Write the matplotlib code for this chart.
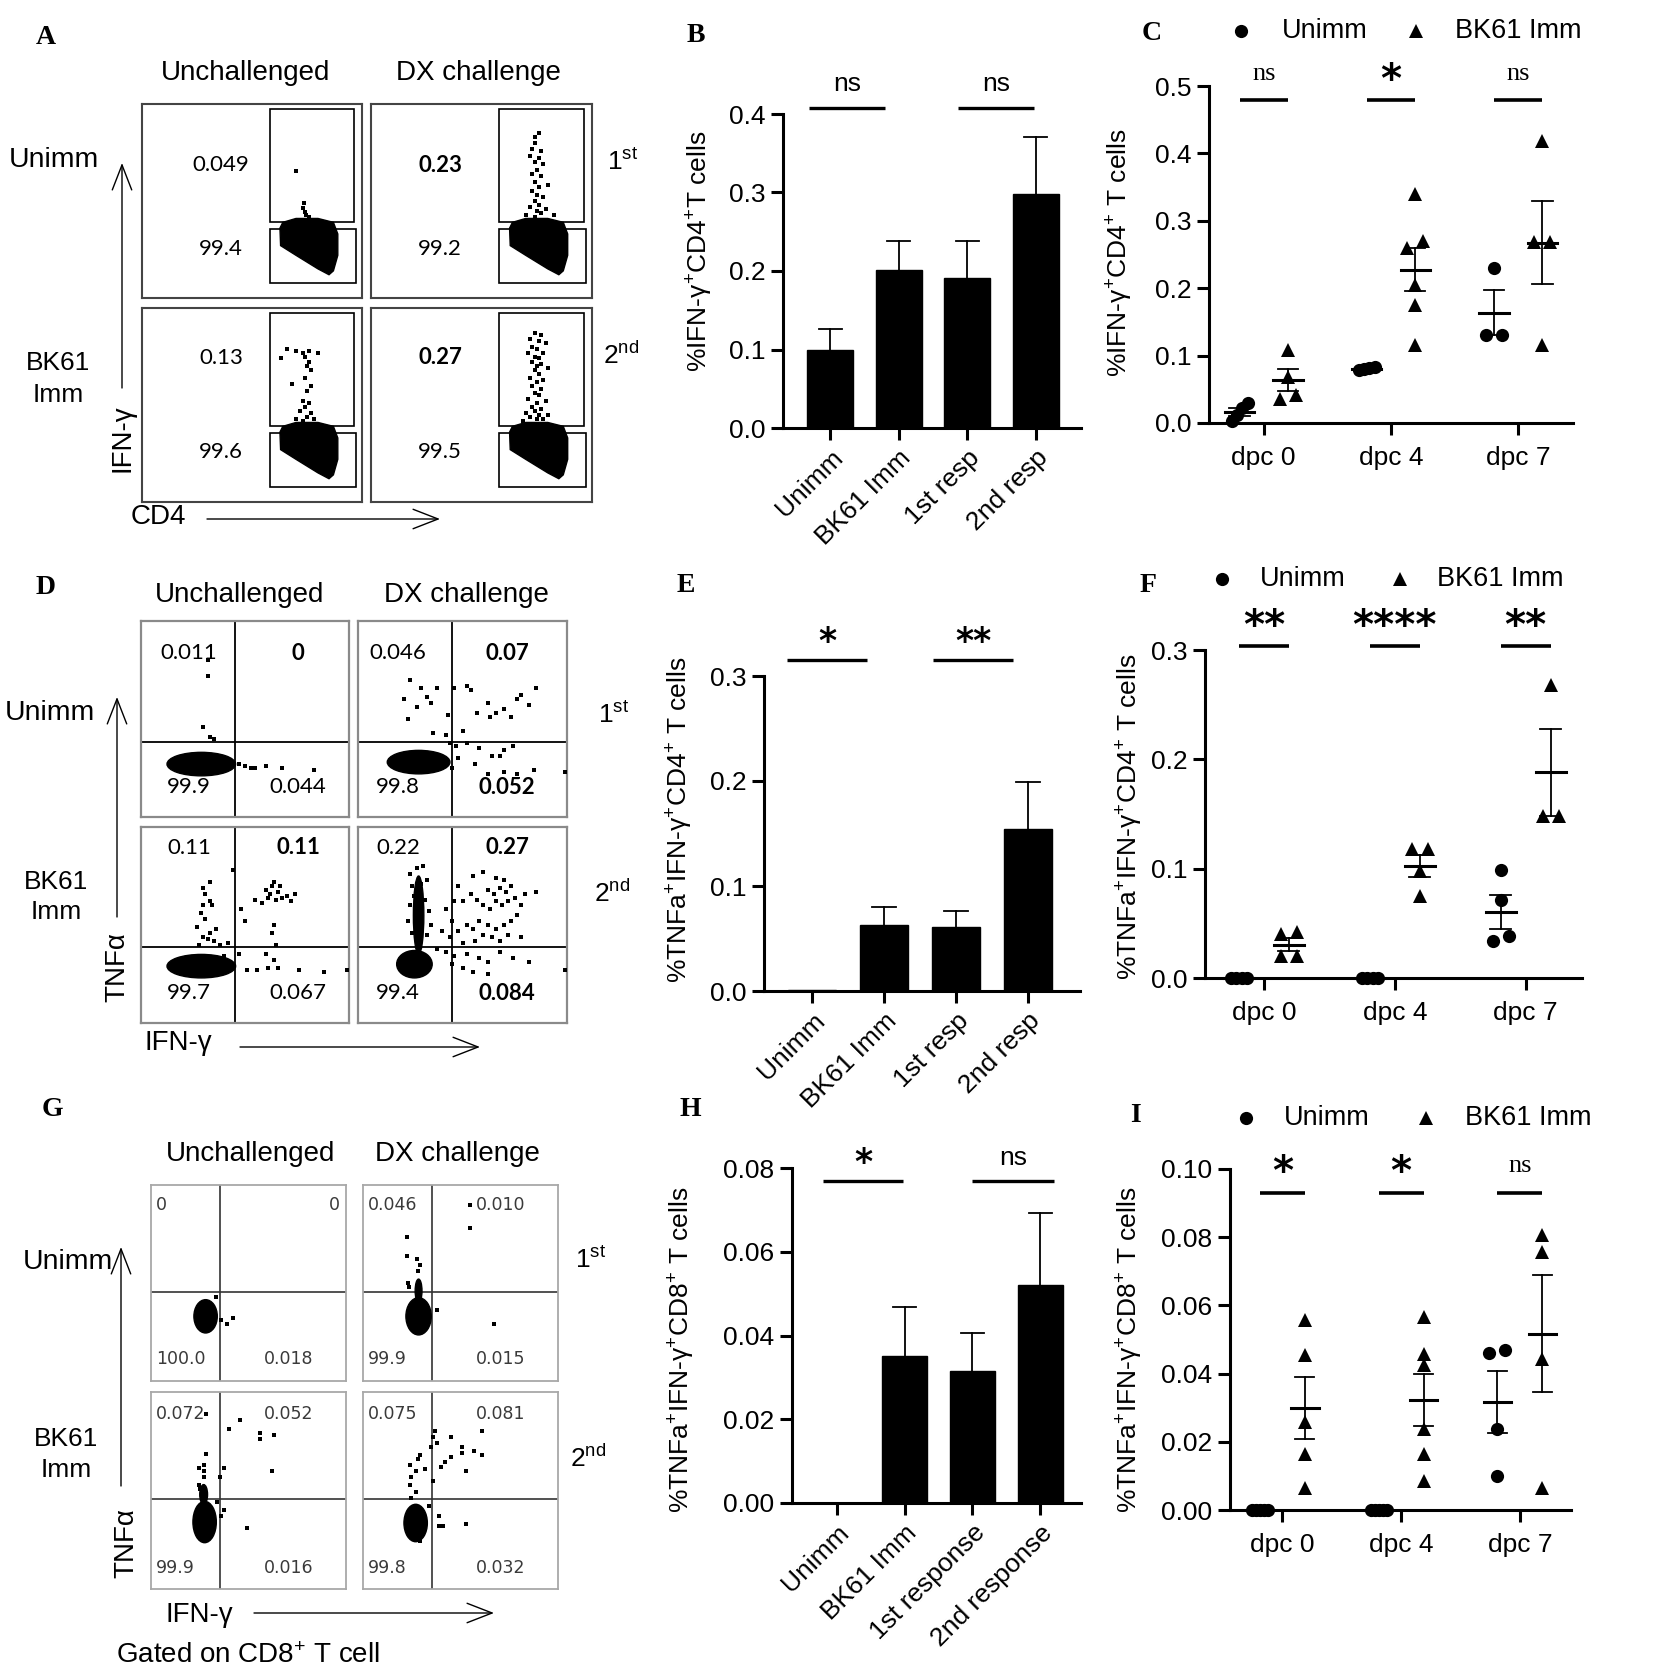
import numpy as np
import matplotlib
matplotlib.use("Agg")
import matplotlib.pyplot as plt
from matplotlib.patches import Rectangle, Polygon, Ellipse

plt.rcParams['font.family'] = ['Liberation Sans', 'DejaVu Sans']
plt.rcParams['mathtext.fontset'] = 'custom'
plt.rcParams['mathtext.rm'] = 'Liberation Sans'
plt.rcParams['mathtext.it'] = 'Liberation Sans:italic'
plt.rcParams['mathtext.bf'] = 'Liberation Sans:bold'
plt.rcParams['mathtext.default'] = 'regular'

# ---------------------------------------------------------------- data
bar_labels_short = ["Unimm", "BK61 Imm", "1st resp", "2nd resp"]
bar_labels_long = ["Unimm", "BK61 Imm", "1st response", "2nd response"]
B_mean = [0.099, 0.201, 0.191, 0.298]
B_sem = [0.027, 0.037, 0.047, 0.073]
E_mean = [0.001, 0.0626, 0.061, 0.154]
E_sem = [0.0, 0.0172, 0.0155, 0.0455]
H_mean = [0.0, 0.0352, 0.0316, 0.052]
H_sem = [0.0, 0.0116, 0.0090, 0.0172]
B_sig = ["ns", "ns"]
E_sig = ["*", "**"]
H_sig = ["*", "ns"]

days = ["dpc 0", "dpc 4", "dpc 7"]
groups = ["Unimm", "BK61 Imm"]
C_unimm = [[0.029, 0.022, 0.012, 0.003], [0.082, 0.080, 0.078, 0.083], [0.23, 0.13, 0.13]]
C_bk61 = [[0.108, 0.068, 0.036, 0.042], [0.34, 0.27, 0.26, 0.205, 0.175, 0.115],
          [0.418, 0.268, 0.268, 0.116]]
F_unimm = [[0, 0, 0, 0], [0, 0, 0, 0], [0.099, 0.071, 0.038, 0.034]]
F_bk61 = [[0.042, 0.040, 0.020, 0.020], [0.118, 0.118, 0.098, 0.075], [0.268, 0.148, 0.148]]
I_unimm = [[0, 0, 0, 0, 0], [0, 0, 0, 0, 0], [0.046, 0.047, 0.0237, 0.010]]
I_bk61 = [[0.0556, 0.0455, 0.0257, 0.0165, 0.0064],
          [0.0566, 0.0458, 0.0426, 0.0237, 0.0165, 0.0084],
          [0.0805, 0.0756, 0.0442, 0.0064]]
C_sig = ["ns", "*", "ns"]
F_sig = ["**", "****", "**"]
I_sig = ["*", "*", "ns"]

flow_cols = ["Unchallenged", "DX challenge"]
# panel A gate percentages [row][col] (upper gate, lower gate)
A_upper = [["0.049", "0.23"], ["0.13", "0.27"]]
A_lower = [["99.4", "99.2"], ["99.6", "99.5"]]
# quadrant percentages [row][col] -> (UL, UR, LL, LR)
D_quad = [[["0.011", "0", "99.9", "0.044"], ["0.046", "0.07", "99.8", "0.052"]],
          [["0.11", "0.11", "99.7", "0.067"], ["0.22", "0.27", "99.4", "0.084"]]]
G_quad = [[["0", "0", "100.0", "0.018"], ["0.046", "0.010", "99.9", "0.015"]],
          [["0.072", "0.052", "99.9", "0.016"], ["0.075", "0.081", "99.8", "0.032"]]]

# flow events (normalised plot coordinates), dense core populations as outlines
A_core = [(0.627, 0.36), (0.64, 0.39), (0.70, 0.41), (0.80, 0.41), (0.87, 0.39), (0.89, 0.33),
          (0.89, 0.22), (0.87, 0.14), (0.85, 0.12), (0.80, 0.15), (0.70, 0.22), (0.63, 0.27)]
A_events = [
    [[(0.70, 0.655), (0.735, 0.49), (0.73, 0.465), (0.74, 0.445), (0.745, 0.43), (0.76, 0.42)],
     [(0.76, 0.85), (0.74, 0.83), (0.74, 0.80), (0.73, 0.77), (0.77, 0.76), (0.72, 0.73), (0.76, 0.72),
      (0.74, 0.70), (0.78, 0.69), (0.75, 0.66), (0.73, 0.64), (0.77, 0.63), (0.74, 0.60), (0.80, 0.58),
      (0.76, 0.57), (0.73, 0.55), (0.75, 0.53), (0.78, 0.52), (0.74, 0.50), (0.76, 0.48), (0.72, 0.47),
      (0.79, 0.46), (0.75, 0.45), (0.77, 0.44), (0.70, 0.43), (0.83, 0.43), (0.74, 0.42)]],
    [[(0.66, 0.79), (0.70, 0.78), (0.73, 0.77), (0.76, 0.78), (0.80, 0.77), (0.63, 0.74), (0.74, 0.745),
      (0.76, 0.72), (0.75, 0.70), (0.77, 0.68), (0.74, 0.64), (0.68, 0.61), (0.77, 0.60), (0.75, 0.57),
      (0.73, 0.52), (0.76, 0.51), (0.74, 0.49), (0.72, 0.47), (0.77, 0.46), (0.75, 0.44), (0.70, 0.43),
      (0.78, 0.43), (0.73, 0.42)],
     [(0.74, 0.87), (0.77, 0.86), (0.72, 0.84), (0.76, 0.83), (0.79, 0.82), (0.73, 0.80), (0.75, 0.79),
      (0.71, 0.77), (0.78, 0.77), (0.74, 0.75), (0.76, 0.74), (0.73, 0.72), (0.77, 0.71), (0.75, 0.70),
      (0.80, 0.69), (0.74, 0.68), (0.76, 0.66), (0.72, 0.64), (0.78, 0.63), (0.75, 0.62), (0.73, 0.60),
      (0.77, 0.58), (0.74, 0.56), (0.76, 0.55), (0.71, 0.53), (0.79, 0.52), (0.75, 0.51), (0.73, 0.49),
      (0.77, 0.48), (0.74, 0.47), (0.70, 0.46), (0.76, 0.45), (0.80, 0.45), (0.72, 0.44), (0.75, 0.43),
      (0.78, 0.43), (0.69, 0.42)]]]
D_core = [[[(0.29, 0.27, 0.33, 0.12)], [(0.29, 0.28, 0.30, 0.12)]],
          [[(0.29, 0.29, 0.33, 0.12)], [(0.27, 0.30, 0.17, 0.14), (0.29, 0.55, 0.05, 0.40)]]]
D_events = [
    [[(0.32, 0.80), (0.32, 0.72), (0.30, 0.46), (0.33, 0.41), (0.35, 0.40), (0.47, 0.27), (0.50, 0.26),
      (0.53, 0.25), (0.55, 0.25), (0.60, 0.26), (0.68, 0.25), (0.83, 0.24)],
     [(0.25, 0.70), (0.30, 0.66), (0.33, 0.61), (0.38, 0.66), (0.22, 0.60), (0.28, 0.56), (0.35, 0.58),
      (0.24, 0.50), (0.43, 0.52), (0.46, 0.66), (0.52, 0.67), (0.54, 0.65), (0.62, 0.58), (0.66, 0.53),
      (0.70, 0.55), (0.73, 0.51), (0.76, 0.60), (0.82, 0.57), (0.85, 0.66), (0.78, 0.62), (0.63, 0.51),
      (0.57, 0.53), (0.50, 0.44), (0.42, 0.42), (0.36, 0.43), (0.44, 0.38), (0.47, 0.36), (0.52, 0.38),
      (0.58, 0.35), (0.64, 0.31), (0.70, 0.34), (0.74, 0.36), (0.68, 0.31), (0.56, 0.27), (0.62, 0.22),
      (0.70, 0.23), (0.76, 0.22), (0.84, 0.24), (0.99, 0.23), (0.48, 0.30), (0.45, 0.25)]],
    [[(0.33, 0.72), (0.30, 0.69), (0.31, 0.66), (0.33, 0.62), (0.30, 0.60), (0.34, 0.60), (0.29, 0.56),
      (0.31, 0.53), (0.27, 0.49), (0.33, 0.46), (0.36, 0.48), (0.30, 0.44), (0.32, 0.43), (0.35, 0.42),
      (0.28, 0.40), (0.38, 0.40), (0.42, 0.41), (0.44, 0.78), (0.55, 0.63), (0.58, 0.61), (0.60, 0.68),
      (0.62, 0.66), (0.63, 0.70), (0.64, 0.72), (0.66, 0.67), (0.68, 0.64), (0.70, 0.65), (0.72, 0.62),
      (0.74, 0.66), (0.61, 0.64), (0.65, 0.63), (0.67, 0.70), (0.48, 0.58), (0.50, 0.52), (0.64, 0.50),
      (0.63, 0.46), (0.65, 0.40), (0.60, 0.35), (0.64, 0.32), (0.61, 0.28), (0.66, 0.28), (0.76, 0.27),
      (0.88, 0.26), (0.99, 0.27), (0.47, 0.35), (0.40, 0.34), (0.51, 0.27), (0.56, 0.27)],
     [(0.55, 0.75), (0.60, 0.77), (0.66, 0.74), (0.70, 0.73), (0.73, 0.70), (0.71, 0.67), (0.68, 0.69),
      (0.65, 0.66), (0.62, 0.68), (0.75, 0.64), (0.72, 0.62), (0.69, 0.60), (0.66, 0.62), (0.63, 0.58),
      (0.60, 0.60), (0.57, 0.63), (0.54, 0.66), (0.50, 0.62), (0.48, 0.70), (0.78, 0.60), (0.80, 0.66),
      (0.85, 0.67), (0.76, 0.55), (0.73, 0.52), (0.70, 0.50), (0.66, 0.48), (0.62, 0.50), (0.58, 0.52),
      (0.55, 0.48), (0.52, 0.50), (0.48, 0.47), (0.45, 0.52), (0.42, 0.58), (0.46, 0.62), (0.60, 0.45),
      (0.64, 0.44), (0.68, 0.42), (0.72, 0.45), (0.78, 0.44), (0.56, 0.42), (0.50, 0.41), (0.44, 0.44),
      (0.40, 0.47), (0.38, 0.38), (0.42, 0.36), (0.46, 0.34), (0.52, 0.35), (0.58, 0.33), (0.62, 0.31),
      (0.68, 0.36), (0.74, 0.33), (0.82, 0.31), (0.50, 0.28), (0.55, 0.26), (0.62, 0.25), (0.45, 0.30),
      (0.99, 0.27), (0.28, 0.79), (0.31, 0.80), (0.25, 0.76), (0.33, 0.73), (0.26, 0.70), (0.30, 0.71),
      (0.27, 0.65), (0.32, 0.63), (0.25, 0.60), (0.34, 0.57), (0.24, 0.52), (0.35, 0.50), (0.26, 0.46),
      (0.33, 0.45)]]]
G_core = [[[(0.28, 0.33, 0.12, 0.17)], [(0.285, 0.33, 0.13, 0.19), (0.285, 0.46, 0.035, 0.12)]],
          [[(0.275, 0.34, 0.12, 0.21), (0.27, 0.48, 0.04, 0.10)], [(0.27, 0.335, 0.12, 0.19)]]]
G_events = [
    [[(0.335, 0.43), (0.42, 0.32), (0.39, 0.29), (0.36, 0.31)],
     [(0.225, 0.735), (0.225, 0.64), (0.277, 0.62), (0.29, 0.59), (0.28, 0.56), (0.55, 0.78),
      (0.549, 0.90), (0.38, 0.36), (0.67, 0.29), (0.23, 0.50), (0.235, 0.48)]],
    [[(0.28, 0.685), (0.245, 0.615), (0.27, 0.63), (0.27, 0.60), (0.27, 0.57), (0.245, 0.53),
      (0.25, 0.51), (0.354, 0.57), (0.375, 0.615), (0.40, 0.81), (0.455, 0.86), (0.56, 0.79),
      (0.56, 0.76), (0.63, 0.78), (0.62, 0.60), (0.28, 0.89), (0.375, 0.40), (0.36, 0.37),
      (0.49, 0.31), (0.34, 0.44)],
     [(0.245, 0.46), (0.27, 0.49), (0.24, 0.53), (0.245, 0.57), (0.27, 0.60), (0.24, 0.63),
      (0.28, 0.66), (0.29, 0.68), (0.36, 0.77), (0.37, 0.80), (0.38, 0.74), (0.36, 0.55), (0.35, 0.72),
      (0.45, 0.77), (0.42, 0.645), (0.40, 0.62), (0.45, 0.67), (0.51, 0.72), (0.51, 0.69), (0.57, 0.70),
      (0.61, 0.80), (0.61, 0.68), (0.53, 0.60), (0.32, 0.61), (0.34, 0.42), (0.39, 0.37), (0.39, 0.32),
      (0.41, 0.32), (0.53, 0.33), (0.29, 0.245)]]]

# ---------------------------------------------------------------- figure
W, H = 1654, 1679
fig = plt.figure(figsize=(W / 100, H / 100), dpi=100)
ov = fig.add_axes([0, 0, 1, 1])
ov.set_xlim(0, W)
ov.set_ylim(H, 0)
ov.axis('off')
ov.set_zorder(10)

FS = 19
LFS = 20  # flow panel labels


def pax(x0, y0, x1, y1):
    return fig.add_axes([x0 / W, 1 - y1 / H, (x1 - x0) / W, (y1 - y0) / H])


def T(x, y, s, **kw):
    kw.setdefault('ha', 'center')
    kw.setdefault('va', 'center')
    kw.setdefault('fontsize', FS)
    return ov.text(x, y, s, **kw)


def arrow(x0, y0, x1, y1):
    ov.annotate('', xy=(x1, y1), xytext=(x0, y0),
                arrowprops=dict(arrowstyle='->,head_length=0.9,head_width=0.35', lw=1.0,
                                color='k', shrinkA=0, shrinkB=0, mutation_scale=20))


def letter(x, y, s):
    T(x, y, s, fontsize=20, family='Liberation Serif', weight='bold')


def flow_box(x0, y0, x1, y1, edge, lw):
    ax = pax(x0, y0, x1, y1)
    ax.set_xlim(0, 1)
    ax.set_ylim(0, 1)
    ax.set_xticks([])
    ax.set_yticks([])
    for s in ax.spines.values():
        s.set_color(edge)
        s.set_linewidth(lw)
    return ax


def events(ax, pts, s=7):
    p = np.array(pts)
    ax.scatter(p[:, 0], p[:, 1], s=s, marker='s', c='k', linewidths=0, zorder=3)


# ---------------- panel A
letter(46, 37, "A")
A_colx = [(142, 362), (371, 592)]
A_rowy = [(104, 298), (308, 502)]
D_colx = [(141, 349), (358, 567)]
D_rowy = [(621, 817), (827, 1023)]
G_colx = [(151, 346), (363, 558)]
G_rowy = [(1185, 1381), (1392, 1589)]

for c, name in enumerate(flow_cols):
    T([246, 478][c], 73, name, fontsize=LFS)
    T([240, 466][c], 595, name, fontsize=LFS)
    T([251, 457][c], 1154, name, fontsize=LFS)

for r in range(2):
    for c in range(2):
        ax = flow_box(A_colx[c][0], A_rowy[r][0], A_colx[c][1], A_rowy[r][1], '#444', 1.5)
        gx = 0.582 if c == 0 else 0.579
        ax.add_patch(Rectangle((gx, 0.392), 0.964 - gx, 0.974 - 0.392, fill=False, ec='k', lw=1.2))
        ax.add_patch(Rectangle((gx, 0.077), 0.973 - gx, 0.356 - 0.077, fill=False, ec='k', lw=1.2))
        ax.add_patch(Polygon(A_core, closed=True, fc='k', ec='k', lw=1, zorder=2))
        events(ax, A_events[r][c])
        xc = [221, 440][c]
        wt = 'bold' if c == 1 else 'normal'
        T(xc, [165, 358][r], A_upper[r][c], family='Lato', fontsize=16, weight=wt)
        T(xc, [249, 452][r], A_lower[r][c], family='Lato', fontsize=16)

T(54, 160, "Unimm", fontsize=LFS + 0.5)
T(58, 363, "BK61", fontsize=19)
T(58, 395, "Imm", fontsize=19)
T(122, 438, "IFN-γ", rotation=90, fontsize=LFS)
arrow(122, 388, 122, 163)
T(158, 517, "CD4", fontsize=LFS)
arrow(207, 519, 440, 519)
T(623, 162, r"1$^{\mathrm{st}}$", fontsize=19)
T(621, 355, r"2$^{\mathrm{nd}}$", fontsize=19)

# ---------------- panel D
letter(46, 588, "D")
D_divy = [0.383, 0.388]
for r in range(2):
    for c in range(2):
        ax = flow_box(D_colx[c][0], D_rowy[r][0], D_colx[c][1], D_rowy[r][1], '#8a8a8a', 1.6)
        ax.axvline(0.45, color='k', lw=1.3)
        ax.axhline(D_divy[r], color='k', lw=1.3)
        for (cx, cy, w, h) in D_core[r][c]:
            ax.add_patch(Ellipse((cx, cy), w, h, fc='k', ec='k', zorder=2))
        events(ax, D_events[r][c])
        q = D_quad[r][c]
        xl, xr = [(189, 298), (398, 507)][c]
        yt, yb = [(653, 787), (848, 993)][r]
        T(xl, yt, q[0], family='Lato', fontsize=16)
        T(xr, yt, q[1], family='Lato', fontsize=16, weight='bold')
        T(xl, yb, q[2], family='Lato', fontsize=16)
        T(xr, yb, q[3], family='Lato', fontsize=16, weight='bold' if c == 1 else 'normal')

T(50, 713, "Unimm", fontsize=LFS + 0.5)
T(56, 882, "BK61", fontsize=19)
T(56, 912, "Imm", fontsize=19)
T(117, 967, "TNFα", rotation=90, fontsize=LFS)
arrow(117, 917, 117, 697)
T(178, 1043, "IFN-γ", fontsize=LFS)
arrow(240, 1047, 480, 1047)
T(614, 715, r"1$^{\mathrm{st}}$", fontsize=19)
T(612, 893, r"2$^{\mathrm{nd}}$", fontsize=19)

# ---------------- panel G
letter(52, 1110, "G")
G_divy = [0.454, 0.457]
for r in range(2):
    for c in range(2):
        ax = flow_box(G_colx[c][0], G_rowy[r][0], G_colx[c][1], G_rowy[r][1], '#a8a8a8', 1.3)
        ax.axvline(0.354, color='#333', lw=1.2)
        ax.axhline(G_divy[r], color='#333', lw=1.2)
        for (cx, cy, w, h) in G_core[r][c]:
            ax.add_patch(Ellipse((cx, cy), w, h, fc='k', ec='k', zorder=2))
        events(ax, G_events[r][c], s=5)
        q = G_quad[r][c]
        x0 = G_colx[c][0]
        yt, yb = [(1205, 1359), (1414, 1568)][r]
        gk = dict(family='DejaVu Sans', fontsize=12.5, color='#3a3a3a', ha='left')
        T(x0 + 5, yt, q[0], **gk)
        if r == 0 and c == 0:
            T(G_colx[c][1] - 6, yt, q[1], **{**gk, 'ha': 'right'})
        else:
            T(x0 + 113, yt, q[1], **gk)
        T(x0 + 5, yb, q[2], **gk)
        T(x0 + 113, yb, q[3], **gk)

T(68, 1262, "Unimm", fontsize=LFS + 0.5)
T(66, 1439, "BK61", fontsize=19)
T(66, 1470, "Imm", fontsize=19)
T(126, 1543, "TNFα", rotation=90, fontsize=LFS)
arrow(121, 1486, 121, 1247)
T(199, 1615, "IFN-γ", fontsize=LFS)
arrow(254, 1613, 494, 1613)
T(248, 1656, r"Gated on CD8$^{+}$ T cell", fontsize=LFS)
T(591, 1260, r"1$^{\mathrm{st}}$", fontsize=19)
T(588, 1458, r"2$^{\mathrm{nd}}$", fontsize=19)


# ---------------------------------------------------------------- graphs
def style_axis(ax, ylim, yticks, ytl):
    for s in ['top', 'right']:
        ax.spines[s].set_visible(False)
    for s in ['left', 'bottom']:
        ax.spines[s].set_linewidth(2.2)
    ax.set_ylim(*ylim)
    ax.set_yticks(yticks)
    ax.set_yticklabels(ytl)
    ax.tick_params(axis='both', direction='out', length=8.6, width=2.2, labelsize=FS, pad=4)
    ax.patch.set_alpha(0)


def sig_text(ax, txt, x, y, kw):
    kw = dict(kw)
    dy = kw.pop('dy')
    ax.annotate(txt, xy=(x, y), xytext=(0, dy), textcoords='offset points',
                ha='center', va='center', annotation_clip=False, **kw)


def bar_panel(box, xlim, means, sems, labels, ylim, yticks, ytl, sig, sig_x, sig_y, sig_kw,
              ylabel, ylab_xy):
    ax = pax(*box)
    x = np.arange(len(means))
    ax.bar(x, means, width=0.67, color='k', edgecolor='k', linewidth=1)
    for xi, m, s in zip(x, means, sems):
        if s > 0:
            ax.plot([xi, xi], [m, m + s], color='k', lw=1.3)
            ax.plot([xi - 0.17, xi + 0.17], [m + s, m + s], color='k', lw=1.3)
    ax.set_xlim(*xlim)
    style_axis(ax, ylim, yticks, ytl)
    ax.set_xticks(x)
    ax.set_xticklabels(labels, rotation=45, ha='right', rotation_mode='anchor')
    for txt, (a, b), kw in zip(sig, sig_x, sig_kw):
        ax.plot([a, b], [sig_y, sig_y], color='k', lw=2.4, clip_on=False, solid_capstyle='butt')
        sig_text(ax, txt, (a + b) / 2, sig_y, kw)
    T(ylab_xy[0], ylab_xy[1], ylabel, rotation=90)
    return ax


def spread(ax, vals, xc):
    vals = np.asarray(vals, float)
    pts = ax.transData.transform(np.c_[np.full(len(vals), xc), vals])
    ypx = pts[:, 1]
    order = np.argsort(ypx)
    rows = [[order[0]]]
    for a, b in zip(order[:-1], order[1:]):
        if ypx[b] - ypx[a] < 8:
            rows[-1].append(b)
        else:
            rows.append([b])
    xcp = pts[0, 0]
    inv = ax.transData.inverted()
    xs = np.empty(len(vals))
    for row in rows:
        n = len(row)
        step = min(17.0, 16.0 / (n - 1)) if n > 1 else 0
        for j, idx in enumerate(row):
            xs[idx] = inv.transform((xcp + (j - (n - 1) / 2) * step, ypx[idx]))[0]
    return xs


def dot_panel(box, xlim, unimm, bk, ylim, yticks, ytl, sig, sig_y, sig_kw, ylabel, ylab_xy,
              leg_y, leg_x):
    ax = pax(*box)
    ax.set_xlim(*xlim)
    style_axis(ax, ylim, yticks, ytl)
    ax.set_xticks(range(len(days)))
    ax.set_xticklabels(days)
    ax.tick_params(axis='x', pad=8)
    off = 0.19
    for i in range(len(days)):
        for vals, dx, mk, ms in [(unimm[i], -off, 'o', 9.5), (bk[i], off, '^', 10)]:
            xc = i + dx
            xs = spread(ax, vals, xc)
            ax.plot(xs, vals, ls='none', marker=mk, ms=ms, color='k', mew=0, clip_on=False, zorder=3)
            m = np.mean(vals)
            se = np.std(vals, ddof=1) / np.sqrt(len(vals))
            ax.plot([xc - 0.115, xc + 0.115], [m, m], color='k', lw=2.2, zorder=4, clip_on=False)
            if se > 1e-9:
                ax.plot([xc, xc], [m - se, m + se], color='k', lw=1.3, zorder=4)
                for yy in (m - se, m + se):
                    ax.plot([xc - 0.08, xc + 0.08], [yy, yy], color='k', lw=1.3, zorder=4)
        ax.plot([i - off, i + off], [sig_y, sig_y], color='k', lw=2.6, clip_on=False,
                solid_capstyle='butt')
        sig_text(ax, sig[i], i, sig_y, sig_kw[sig[i]])
    T(ylab_xy[0], ylab_xy[1], ylabel, rotation=90)
    # legend
    ov.plot([leg_x[0]], [leg_y], 'o', ms=9.5, color='k', mew=0)
    T(leg_x[1], leg_y, groups[0], ha='left', fontsize=FS + 0.5)
    ov.plot([leg_x[2]], [leg_y], '^', ms=10, color='k', mew=0)
    T(leg_x[3], leg_y, groups[1], ha='left', fontsize=FS + 0.5)
    return ax


star_big = dict(family='DejaVu Sans', weight='bold', fontsize=29, dy=14)
star_mid = dict(family='DejaVu Sans', weight='bold', fontsize=25, dy=13)
ns_serif = dict(family='Liberation Serif', fontsize=19, dy=19)
ns_sans = dict(family='Liberation Sans', fontsize=19, dy=17)

# ---------------- panel B
letter(696, 36, "B")
bar_panel((783, 114, 1081, 428), (-0.69, 3.66), B_mean, B_sem, bar_labels_short,
          (0, 0.4), np.arange(0, 0.41, 0.1), ["0.0", "0.1", "0.2", "0.3", "0.4"],
          B_sig, [(-0.31, 0.80), (1.87, 2.98)], 0.4076, [ns_sans, ns_sans],
          r"%IFN-γ$^{+}$CD4$^{+}$T cells", (700, 251))

# ---------------- panel E
letter(686, 586, "E")
bar_panel((764, 676, 1080, 991), (-0.67, 3.72), E_mean, E_sem, bar_labels_short,
          (0, 0.3), np.arange(0, 0.31, 0.1), ["0.0", "0.1", "0.2", "0.3"],
          E_sig, [(-0.35, 0.76), (1.68, 2.79)], 0.3155, [star_mid, star_mid],
          r"%TNFa$^{+}$IFN-γ$^{+}$CD4$^{+}$ T cells", (680, 820))

# ---------------- panel H
letter(690, 1110, "H")
bar_panel((792, 1168, 1081, 1503), (-0.66, 3.6), H_mean, H_sem, bar_labels_long,
          (0, 0.08), np.arange(0, 0.081, 0.02), ["0.00", "0.02", "0.04", "0.06", "0.08"],
          H_sig, [(-0.2, 0.98), (2.0, 3.2)], 0.0768, [star_mid, ns_sans],
          r"%TNFa$^{+}$IFN-γ$^{+}$CD8$^{+}$ T cells", (682, 1350))

# ---------------- panel C
letter(1152, 33, "C")
dot_panel((1209, 86, 1573, 423), (-0.43, 2.43), C_unimm, C_bk61, (0, 0.5),
          np.arange(0, 0.51, 0.1), ["0.0", "0.1", "0.2", "0.3", "0.4", "0.5"],
          C_sig, 0.479, {"ns": ns_serif, "*": star_big},
          r"%IFN-γ$^{+}$CD4$^{+}$ T cells", (1120, 253), 31, (1241, 1282, 1416, 1455))

# ---------------- panel F
letter(1148, 586, "F")
dot_panel((1205, 650, 1582, 978), (-0.45, 2.43), F_unimm, F_bk61, (0, 0.3),
          np.arange(0, 0.31, 0.1), ["0.0", "0.1", "0.2", "0.3"],
          F_sig, 0.3037, {"**": star_big, "****": star_big},
          r"%TNFa$^{+}$IFN-γ$^{+}$CD4$^{+}$ T cells", (1130, 817), 579, (1222, 1260, 1400, 1437))

# ---------------- panel I
letter(1135, 1116, "I")
dot_panel((1230, 1169, 1571, 1510), (-0.44, 2.43), I_unimm, I_bk61, (0, 0.1),
          np.arange(0, 0.101, 0.02), ["0.00", "0.02", "0.04", "0.06", "0.08", "0.10"],
          I_sig, 0.093, {"ns": ns_serif, "*": star_big},
          r"%TNFa$^{+}$IFN-γ$^{+}$CD8$^{+}$ T cells", (1130, 1350), 1118, (1246, 1284, 1426, 1465))

fig.savefig("out.png", dpi=100, facecolor='white')
